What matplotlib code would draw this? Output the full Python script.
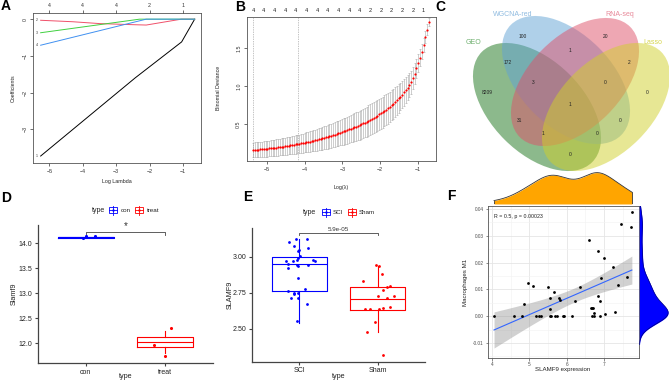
import numpy as np
import matplotlib
matplotlib.use('Agg')
import matplotlib.pyplot as plt
from matplotlib.patches import Ellipse, Rectangle

plt.rcParams['font.family'] = ['Liberation Sans', 'DejaVu Sans']

# ---------------- DATA ----------------
# Panel A: LASSO coefficient paths (log lambda, coefficient)
a_black_x = [-5.26, -2.43, -1.04, -0.65]
a_black_y = [-3.73, -1.60, -0.62, 0.0]
a_red_x = [-5.26, -4.3, -3.5, -2.5, -2.1, -1.05, -0.65]
a_red_y = [-0.03, -0.07, -0.12, -0.15, -0.16, 0.0, 0.0]
a_green_x = [-5.26, -2.3, -0.65]
a_green_y = [-0.37, 0.0, 0.0]
a_blue_x = [-5.26, -2.1, -0.65]
a_blue_y = [-0.71, 0.0, 0.0]
a_path_labels = ['1', '2', '3', '4']
a_top_ticks = [-5, -4, -3, -2, -1]
a_top_counts = ['4', '4', '4', '2', '1']

# Panel B: cross-validation curve
b_loglam_first, b_loglam_last, b_n = -5.37, -0.71, 100
b_dev = [0.160, 0.162, 0.164, 0.166, 0.168, 0.170, 0.172, 0.175, 0.177, 0.180,
         0.183, 0.186, 0.189, 0.192, 0.195, 0.198, 0.201, 0.204, 0.208, 0.212,
         0.216, 0.220, 0.224, 0.228, 0.232, 0.236, 0.240, 0.245, 0.250, 0.255,
         0.260, 0.265, 0.270, 0.276, 0.282, 0.288, 0.294, 0.300, 0.306, 0.312,
         0.319, 0.326, 0.333, 0.340, 0.347, 0.355, 0.363, 0.371, 0.379, 0.387,
         0.395, 0.403, 0.411, 0.420, 0.429, 0.438, 0.447, 0.457, 0.467, 0.477,
         0.487, 0.498, 0.509, 0.520, 0.532, 0.544, 0.557, 0.570, 0.583, 0.597,
         0.611, 0.626, 0.641, 0.657, 0.673, 0.690, 0.708, 0.727, 0.747, 0.768,
         0.790, 0.813, 0.837, 0.862, 0.888, 0.916, 0.945, 0.976, 1.010, 1.050,
         1.10, 1.16, 1.23, 1.30, 1.37, 1.45, 1.54, 1.64, 1.74, 1.84]
b_sd = [0.095, 0.096, 0.097, 0.098, 0.099, 0.100, 0.101, 0.102, 0.103, 0.104,
        0.105, 0.106, 0.107, 0.108, 0.109, 0.110, 0.111, 0.112, 0.113, 0.114,
        0.115, 0.116, 0.117, 0.118, 0.119, 0.120, 0.122, 0.124, 0.126, 0.128,
        0.130, 0.132, 0.134, 0.136, 0.138, 0.140, 0.142, 0.144, 0.146, 0.148,
        0.150, 0.152, 0.154, 0.156, 0.158, 0.160, 0.162, 0.164, 0.166, 0.168,
        0.170, 0.172, 0.174, 0.176, 0.178, 0.180, 0.182, 0.184, 0.186, 0.188,
        0.190, 0.192, 0.194, 0.196, 0.198, 0.200, 0.201, 0.202, 0.203, 0.204,
        0.205, 0.205, 0.205, 0.205, 0.204, 0.203, 0.202, 0.200, 0.198, 0.196,
        0.193, 0.190, 0.186, 0.182, 0.178, 0.173, 0.168, 0.162, 0.156, 0.150,
        0.143, 0.136, 0.128, 0.120, 0.111, 0.102, 0.092, 0.081, 0.070, 0.058]
b_lambda_min = -5.37
b_lambda_1se = -4.18
b_top_counts = ['4'] * 11 + ['2'] * 5 + ['1']

# Panel C: Venn diagram
c_sets = ['GEO', 'WGCNA-red', 'RNA-seq', 'Lasso']
c_regions = ['W', 'R', 'WR', 'GW', 'RL', 'GWR', 'WRL', 'G', 'L', 'GWRL',
             'GR', 'GWL', 'GRL', 'WL', 'GL']
c_counts = [100, 20, 1, 172, 2, 3, 0, 8209, 0, 1, 31, 0, 1, 0, 0]

# Panel D
d_groups = ['con', 'treat']
d_q1 = [14.115, 11.92]
d_med = [14.12, 12.02]
d_q3 = [14.125, 12.13]
d_wlo = [14.115, 11.81]
d_whi = [14.125, 12.25]
d_con_vals = [14.10, 14.147, 14.147]
d_con_jit = [-0.033, 0.0, 0.113]
d_treat_vals = [12.307, 11.953, 11.733]
d_treat_jit = [0.067, -0.142, 0.0]

# Panel E
e_groups = ['SCI', 'Sham']
e_q1 = [2.761, 2.627]
e_med = [2.949, 2.710]
e_q3 = [3.000, 2.790]
e_wlo = [2.537, 2.477]
e_whi = [3.125, 2.940]
e_sci_vals = [3.102, 3.127, 3.123, 3.079, 3.062, 3.044, 3.046, 3.009, 2.991, 2.975,
              2.975, 2.981, 2.981, 2.972, 2.951, 2.924, 2.942, 2.940, 2.947, 2.854,
              2.766, 2.745, 2.752, 2.752, 2.778, 2.715, 2.715, 2.669, 2.553]
e_sci_jit = [-0.128, -0.038, 0.102, -0.060, 0.111, -0.017, 0.004, 0.009, -0.021, -0.162,
             -0.077, -0.030, 0.179, 0.204, -0.140, -0.145, -0.030, -0.013, 0.106, -0.021,
             -0.140, -0.072, -0.060, -0.021, 0.077, -0.098, -0.021, 0.094, -0.034]
e_sham_vals = [2.947, 2.935, 2.880, 2.831, 2.801, 2.792, 2.769, 2.725, 2.727, 2.711,
               2.639, 2.639, 2.634, 2.644, 2.650, 2.546, 2.479, 2.315]
e_sham_jit = [-0.021, 0.013, 0.051, -0.183, 0.153, 0.115, 0.060, 0.004, 0.200, 0.123,
              -0.166, -0.102, 0.009, 0.064, 0.157, -0.038, -0.132, 0.072]
e_pval = '5.9e-05'

# Panel F
f_x = [4.05, 4.58, 4.79, 4.86, 4.95, 5.10, 5.19, 5.25, 5.30, 5.50,
       5.54, 5.55, 5.54, 5.58, 5.67, 5.68, 5.74, 5.79, 5.82, 5.90,
       5.94, 6.13, 6.22, 6.35, 6.59, 6.84, 7.01, 6.85, 6.89, 6.93,
       6.65, 6.69, 6.71, 6.73, 6.67, 6.73, 6.89, 7.04, 7.29, 7.25,
       7.38, 7.46, 7.75, 7.74, 7.62]
f_y = [0.0, 0.0, 0.0, 0.0047, 0.0122, 0.0112, 0.0, 0.0, 0.0, 0.0107,
       0.0068, 0.0025, 0.0, 0.0, 0.0090, 0.0, 0.0, 0.0068, 0.0060, 0.0,
       0.0, 0.0, 0.0057, 0.0107, 0.0284, 0.0243, 0.0218, 0.0075, 0.0056, 0.0141,
       0.0031, 0.0029, 0.0031, 0.0012, 0.0, 0.0, 0.0, 0.0010, 0.0016, 0.0182,
       0.0116, 0.0344, 0.0387, 0.0331, 0.0147]
f_stat_text = 'R = 0.5, p = 0.00023'

# ---------------- FIGURE ----------------
W, H = 669, 381
fig = plt.figure(figsize=(W / 100, H / 100), dpi=100)


def add_ax(x0, y0, x1, y1):
    return fig.add_axes([x0 / W, 1 - y1 / H, (x1 - x0) / W, (y1 - y0) / H])


# ---- Panel A ----
axA = add_ax(33.3, 13.3, 201, 163)
for xs, ys, col in [(a_black_x, a_black_y, 'black'), (a_red_x, a_red_y, '#F0506A'),
                    (a_green_x, a_green_y, '#40D040'), (a_blue_x, a_blue_y, '#4090F0')]:
    axA.plot(xs, ys, color=col, lw=0.7)
for xs, ys, lab in zip([a_black_x, a_red_x, a_green_x, a_blue_x],
                       [a_black_y, a_red_y, a_green_y, a_blue_y], a_path_labels):
    axA.text(xs[0] - 0.08, ys[0], lab, fontsize=2.5, ha='right', va='center', color='#333333')
axA.set_xlim(-5.48, -0.46)
axA.set_ylim(-3.92, 0.16)
axA.set_xticks([-5, -4, -3, -2, -1])
axA.set_yticks([0, -1, -2, -3])
axA.tick_params(labelsize=3.8, length=2.5, width=0.5, pad=1.5, colors='#333333')
for lab in axA.get_yticklabels():
    lab.set_rotation(90)
    lab.set_va('center')
for s in axA.spines.values():
    s.set_linewidth(0.6)
    s.set_color('#555555')
axAt = axA.twiny()
axAt.set_xlim(axA.get_xlim())
axAt.set_xticks(a_top_ticks)
axAt.set_xticklabels(a_top_counts)
axAt.tick_params(labelsize=3.8, length=2.5, width=0.5, pad=1.5, colors='#333333')
for s in axAt.spines.values():
    s.set_visible(False)

# ---- Panel B ----
axB = add_ax(246.7, 16.7, 436, 161)
b_x = np.linspace(b_loglam_first, b_loglam_last, b_n)
axB.errorbar(b_x, b_dev, yerr=b_sd, fmt='none', ecolor='#A8A8A8', elinewidth=0.4,
             capsize=1.0, capthick=0.4)
axB.scatter(b_x, b_dev, s=2.5, color='red', zorder=3, linewidths=0)
axB.axvline(b_lambda_min, color='#888888', lw=0.5, ls=(0, (1, 1.5)))
axB.axvline(b_lambda_1se, color='#888888', lw=0.5, ls=(0, (1, 1.5)))
axB.set_xlim(-5.54, -0.52)
axB.set_ylim(0.015, 1.91)
axB.set_xticks([-5, -4, -3, -2, -1])
axB.set_yticks([0.5, 1.0, 1.5])
axB.set_yticklabels(['0.5', '1.0', '1.5'])
axB.tick_params(labelsize=3.8, length=2.5, width=0.5, pad=1.5, colors='#333333')
for lab in axB.get_yticklabels():
    lab.set_rotation(90)
    lab.set_va('center')
for s in axB.spines.values():
    s.set_linewidth(0.6)
    s.set_color('#555555')
axBt = axB.twiny()
axBt.set_xlim(axB.get_xlim())
axBt.set_xticks(b_x[::6])
axBt.set_xticklabels(b_top_counts)
axBt.tick_params(labelsize=4.0, length=0, pad=3, colors='#222222')
for s in axBt.spines.values():
    s.set_visible(False)

# ---- Panel C (Venn) ----
axC = add_ax(460, 0, 669, 175)
axC.set_xlim(460, 669)
axC.set_ylim(175, 0)
axC.axis('off')
ell_specs = {'GEO': ((537, 107), 45, '#1A751A'),
             'WGCNA-red': ((566, 80), 45, '#61A3D5'),
             'RNA-seq': ((575, 82), -45, '#DE5069'),
             'Lasso': ((606, 107), -45, '#D0D02A')}
for name in c_sets:
    cen, ang, col = ell_specs[name]
    axC.add_patch(Ellipse(cen, 156, 92, angle=ang, facecolor=col, alpha=0.5,
                          edgecolor='none'))
set_label_pos = {'GEO': (474, 42, '#6DAF6D'), 'WGCNA-red': (513, 14, '#8FBBE0'),
                 'RNA-seq': (620, 14, '#E88A9A'), 'Lasso': (653, 42, '#D6D64E')}
for name in c_sets:
    x, y, col = set_label_pos[name]
    axC.text(x, y, name, fontsize=5.0, color=col, ha='center', va='center')
region_pos = {'W': (523, 37), 'R': (606, 37), 'WR': (570, 50), 'GW': (508, 63),
              'RL': (629, 63), 'GWR': (533, 83), 'WRL': (605, 83), 'G': (487, 92),
              'L': (647, 92), 'GWRL': (570, 105), 'GR': (520, 121), 'GWL': (620, 121),
              'GRL': (543, 134), 'WL': (597, 134), 'GL': (570, 155)}
for reg, cnt in zip(c_regions, c_counts):
    x, y = region_pos[reg]
    axC.text(x, y, str(cnt), fontsize=3.5, ha='center', va='center', color='#222222')

# ---- Panel D ----
def style_pub(ax):
    for side in ['top', 'right']:
        ax.spines[side].set_visible(False)
    for side in ['left', 'bottom']:
        ax.spines[side].set_linewidth(0.9)
        ax.spines[side].set_color('#444444')
    ax.tick_params(labelsize=5.0, length=2.5, width=0.8, pad=1.5, color='#444444',
                   labelcolor='#222222')
    ax.patch.set_alpha(0)


def box_stats(q1, med, q3, wlo, whi):
    return [dict(q1=a, med=b, q3=c, whislo=d, whishi=e, fliers=[])
            for a, b, c, d, e in zip(q1, med, q3, wlo, whi)]


axD = add_ax(38, 225, 213, 363)
statsD = box_stats(d_q1, d_med, d_q3, d_wlo, d_whi)
for i, (st, col) in enumerate(zip(statsD, ['blue', 'red'])):
    axD.bxp([st], positions=[i + 1], widths=0.7, showfliers=False, showcaps=False,
            boxprops=dict(color=col, lw=0.8), whiskerprops=dict(color=col, lw=0.8),
            medianprops=dict(color=col, lw=0.8), manage_ticks=False)
axD.scatter(1 + np.array(d_con_jit), d_con_vals, s=5, color='blue', linewidths=0, zorder=3)
axD.scatter(2 + np.array(d_treat_jit), d_treat_vals, s=5, color='red', linewidths=0, zorder=3)
axD.set_xlim(0.4, 2.6)
axD.set_ylim(11.6, 14.37)
axD.set_xticks([1, 2])
axD.set_xticklabels(d_groups)
axD.set_yticks([12.0, 12.5, 13.0, 13.5, 14.0])
style_pub(axD)
axD.plot([1, 1, 2, 2], [14.16, 14.23, 14.23, 14.16], color='#444444', lw=0.6)
axD.text(1.5, 14.25, '*', fontsize=7, ha='center', va='bottom', color='#333333')

# ---- Panel E ----
axE = add_ax(252, 228.3, 425, 361.7)
statsE = box_stats(e_q1, e_med, e_q3, e_wlo, e_whi)
for i, (st, col) in enumerate(zip(statsE, ['blue', 'red'])):
    axE.bxp([st], positions=[i + 1], widths=0.7, showfliers=False, showcaps=False,
            boxprops=dict(color=col, lw=0.8), whiskerprops=dict(color=col, lw=0.8),
            medianprops=dict(color=col, lw=0.8), manage_ticks=False)
axE.scatter(1 + np.array(e_sci_jit), e_sci_vals, s=4, color='blue', linewidths=0, zorder=3)
axE.scatter(2 + np.array(e_sham_jit), e_sham_vals, s=4, color='red', linewidths=0, zorder=3)
axE.set_xlim(0.4, 2.6)
axE.set_ylim(2.27, 3.2)
axE.set_xticks([1, 2])
axE.set_xticklabels(e_groups)
axE.set_yticks([2.5, 2.75, 3.0])
axE.set_yticklabels(['2.50', '2.75', '3.00'])
style_pub(axE)
axE.plot([1, 1, 2, 2], [3.15, 3.167, 3.167, 3.15], color='#444444', lw=0.6)
axE.text(1.5, 3.172, e_pval, fontsize=4.5, ha='center', va='bottom', color='#333333')

# ---- Panel F ----
fx = np.array(f_x)
fy = np.array(f_y)
axF = add_ax(487.7, 205.7, 639.3, 358.3)
axF.set_xlim(3.88, 7.95)
axF.set_ylim(-0.0157, 0.0412)
axF.set_xticks([4, 5, 6, 7])
axF.set_yticks([-0.01, 0.0, 0.01, 0.02, 0.03, 0.04])
axF.set_yticklabels(['-0.01', '0.00', '0.01', '0.02', '0.03', '0.04'])
axF.set_xticks([4.5, 5.5, 6.5, 7.5], minor=True)
axF.set_yticks([-0.015, -0.005, 0.005, 0.015, 0.025, 0.035], minor=True)
axF.grid(True, which='major', color='#E5E5E5', lw=0.6)
axF.grid(True, which='minor', color='#F2F2F2', lw=0.4)
axF.set_axisbelow(True)
axF.tick_params(which='major', labelsize=3.4, length=1.8, width=0.4, pad=1.2,
                color='#333333', labelcolor='#4D4D4D')
axF.tick_params(which='minor', length=0)
for s in axF.spines.values():
    s.set_color('#555555')
    s.set_linewidth(0.6)
# regression with 95% CI
n = len(fx)
slope, intercept = np.polyfit(fx, fy, 1)
xs = np.linspace(fx.min(), fx.max(), 100)
ys = intercept + slope * xs
resid = fy - (intercept + slope * fx)
s_err = np.sqrt(np.sum(resid ** 2) / (n - 2))
t_val = 2.014
ci = t_val * s_err * np.sqrt(1 / n + (xs - fx.mean()) ** 2 / np.sum((fx - fx.mean()) ** 2))
axF.fill_between(xs, ys - ci, ys + ci, color='#999999', alpha=0.45, lw=0)
axF.plot(xs, ys, color='#3366FF', lw=0.8)
axF.scatter(fx, fy, s=4, color='black', linewidths=0, zorder=3)
axF.text(4.05, 0.0373, f_stat_text, fontsize=3.8, ha='left', va='center', color='#222222')


def kde(data, grid):
    data = np.asarray(data)
    sd = data.std(ddof=1)
    iqr = np.subtract(*np.percentile(data, [75, 25]))
    bw = 0.9 * min(sd, iqr / 1.34) * len(data) ** (-0.2)
    dens = np.exp(-0.5 * ((grid[:, None] - data[None, :]) / bw) ** 2).sum(1)
    return dens / (len(data) * bw * np.sqrt(2 * np.pi)), bw


axFt = add_ax(487.7, 172, 639.3, 204)
gx = np.linspace(fx.min(), fx.max(), 300)
dx, _ = kde(fx, gx)
axFt.fill_between(gx, 0, dx, color='#FFA500', lw=0)
axFt.plot(gx, dx, color='#333333', lw=0.6)
axFt.plot([gx[0], gx[0]], [0, dx[0]], color='#333333', lw=0.6)
axFt.plot([gx[-1], gx[-1]], [0, dx[-1]], color='#333333', lw=0.6)
axFt.set_xlim(axF.get_xlim())
axFt.set_ylim(0, dx.max() * 1.02)
axFt.axis('off')

axFr = add_ax(639.3, 205.7, 669, 358.3)
_, bwy = kde(fy, np.array([0.0]))
gy = np.linspace(fy.min() - 3 * bwy, fy.max() + 3 * bwy, 300)
dy, _ = kde(fy, gy)
axFr.fill_betweenx(gy, 0, dy, color='#0000FF', lw=0)
axFr.plot(dy, gy, color='#000080', lw=0.5)
axFr.set_ylim(axF.get_ylim())
axFr.set_xlim(0, dy.max() * 1.03)
axFr.axis('off')

# ---- Overlay text (labels, legends, panel letters) ----
ov = fig.add_axes([0, 0, 1, 1])
ov.set_xlim(0, W)
ov.set_ylim(H, 0)
ov.axis('off')
for lab, x, y in [('A', 6, 6), ('B', 240, 7), ('C', 440, 7), ('D', 6, 198),
                  ('E', 248, 197), ('F', 451, 196)]:
    ov.text(x, y, lab, fontsize=10, fontweight='bold', ha='center', va='center')
ov.text(13, 88, 'Coefficients', fontsize=3.8, rotation=90, ha='center', va='center', color='#222222')
ov.text(117, 182, 'Log Lambda', fontsize=3.8, ha='center', va='center', color='#222222')
ov.text(219, 88, 'Binomial Deviance', fontsize=3.8, rotation=90, ha='center', va='center', color='#222222')
ov.text(341, 187, 'Log(λ)', fontsize=3.8, ha='center', va='center', color='#222222')
ov.text(14, 294, 'Slamf9', fontsize=5.2, rotation=90, ha='center', va='center', color='#222222')
ov.text(126, 377, 'type', fontsize=5.2, ha='center', va='center', color='#222222')
ov.text(230, 295, 'SLAMF9', fontsize=5.2, rotation=90, ha='center', va='center', color='#222222')
ov.text(339, 377, 'type', fontsize=5.2, ha='center', va='center', color='#222222')
ov.text(563, 370, 'SLAMF9 expression', fontsize=4.4, ha='center', va='center', color='#222222')
ov.text(466, 282, 'Macrophages M1', fontsize=4.4, rotation=90, ha='center', va='center', color='#222222')


def legend_icon(cx, cy, col):
    ov.add_patch(Rectangle((cx - 4, cy - 3), 8, 6, facecolor='none', edgecolor=col, lw=0.6))
    ov.plot([cx - 4, cx + 4], [cy, cy], color=col, lw=0.6)
    ov.plot([cx, cx], [cy - 4.5, cy + 4.5], color=col, lw=0.6)
    ov.scatter([cx], [cy], s=3, color=col, linewidths=0)


ov.text(99, 210, 'type', fontsize=5.0, ha='center', va='center', color='#222222')
legend_icon(113, 210, 'blue')
ov.text(121, 210, d_groups[0], fontsize=4.5, ha='left', va='center', color='#222222')
legend_icon(139, 210, 'red')
ov.text(147, 210, d_groups[1], fontsize=4.5, ha='left', va='center', color='#222222')

ov.text(310, 212, 'type', fontsize=5.0, ha='center', va='center', color='#222222')
legend_icon(326, 212, 'blue')
ov.text(333, 212, e_groups[0], fontsize=4.5, ha='left', va='center', color='#222222')
legend_icon(352, 212, 'red')
ov.text(359, 212, e_groups[1], fontsize=4.5, ha='left', va='center', color='#222222')

fig.savefig('out.png', dpi=100)
